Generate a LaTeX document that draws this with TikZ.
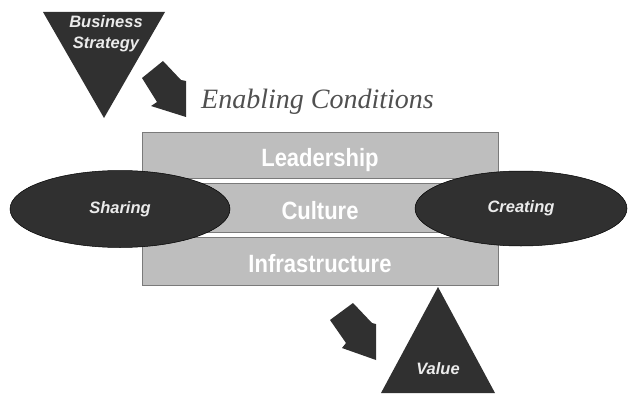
\documentclass[tikz,border=0pt]{standalone}
\usepackage{fontspec}
\setmainfont{Liberation Sans}
\newfontfamily\titlefont{Liberation Serif}
\newfontfamily\layerfont{Liberation Sans}[FakeStretch=0.88]
\usetikzlibrary{shapes.geometric}
\definecolor{darkfill}{HTML}{303030}
\definecolor{layerfill}{HTML}{BEBEBE}
\definecolor{layeredge}{HTML}{7A7A7A}
\definecolor{titlegray}{HTML}{505050}
\begin{document}
\begin{tikzpicture}[x=1pt,y=-1pt,
  layer/.style={draw=layeredge, line width=0.9pt, fill=layerfill,
    minimum width=356pt, inner sep=0pt, text=white,
    text height=23pt, text depth=0pt,
    font=\layerfont\bfseries\fontsize{25}{25}\selectfont},
  blob/.style={ellipse, draw=black, line width=0.5pt, fill=darkfill,
    inner sep=0pt, text=white!92!black,
    font=\bfseries\itshape\fontsize{16.5}{16.5}\selectfont},
  wedge/.style={fill=darkfill},
  label/.style={text=white!92!black, inner sep=0pt, align=center,
    font=\bfseries\itshape\fontsize{16.5}{21}\selectfont},
  flowarrow/.style={fill=darkfill}]
\useasboundingbox (0,0) rectangle (628,393);

% three enabling layers
\node[layer, minimum height=46pt] (lead)  at (320,155)   {Leadership};
\node[layer, minimum height=49pt] (cult)  at (320,207.5) {Culture};
\node[layer, minimum height=48pt] (infra) at (320,261)   {Infrastructure};

% processes acting across the layers (Sharing label sits a little left)
\node[blob, minimum width=220pt, minimum height=77pt] (share) at (120,209) {Sharing\hspace{20pt}};
\node[blob, minimum width=212pt, minimum height=75pt] (create) at (521,208.5) {Creating};

% strategy (input) triangle
\coordinate (bsA) at (43,12);
\coordinate (bsB) at (165,12);
\coordinate (bsC) at (104,118);
\fill[wedge] (bsA) -- (bsB) -- (bsC) -- cycle;
\node[label] (bs) at (106,34) {Business\\Strategy};

% value (output) triangle
\coordinate (vA) at (438,287);
\coordinate (vB) at (495,393);
\coordinate (vC) at (381,393);
\fill[wedge] (vA) -- (vB) -- (vC) -- cycle;
\node[label] (val) at (438,369) {Value};

% heading
\node[text=titlegray, inner sep=0pt, anchor=base west,
  font=\titlefont\itshape\fontsize{28}{28}\selectfont] (title) at (201,108)
  {Enabling Conditions};

% block arrows
\fill[flowarrow] (142,78) -- (163,61) -- (181,80) -- (186,81) -- (186,117)
  -- (151,106) -- (157,102) -- cycle;
\fill[flowarrow] (330,320) -- (353,303) -- (372,323) -- (376,324) -- (376,360)
  -- (342,348) -- (346,343) -- cycle;
\end{tikzpicture}
\end{document}
